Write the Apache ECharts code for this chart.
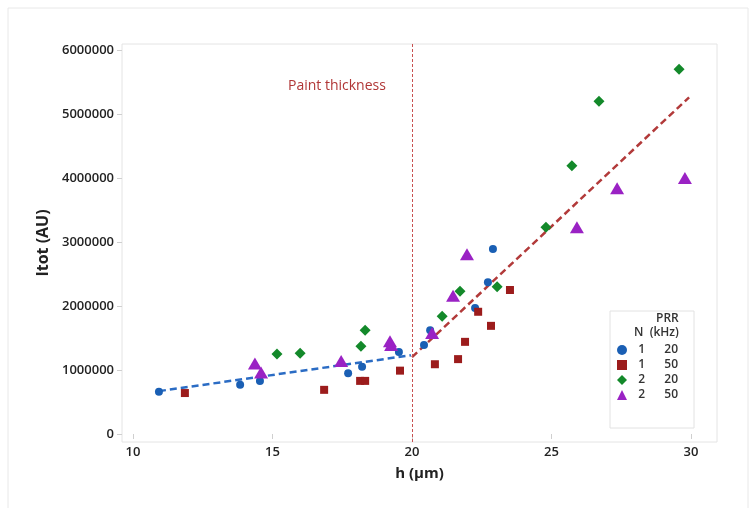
<!DOCTYPE html>
<html>
<head>
<meta charset="utf-8">
<script src="https://cdn.jsdelivr.net/npm/echarts@6/dist/echarts.min.js"></script>
<style>
  html, body { margin: 0; padding: 0; background: #fff; }
  #chart { width: 756px; height: 508px; }
</style>
</head>
<body>
<div id="chart"></div>
<script>
// data: [h (µm), Itot (AU)]
var n1_20 = [[10.93, 660000], [13.84, 770000], [14.55, 830000], [17.71, 950000], [18.21, 1050000],
  [19.53, 1280000], [20.43, 1390000], [20.65, 1620000], [22.26, 1970000], [22.72, 2370000], [22.9, 2890000]];
var n1_50 = [[11.86, 640000], [16.85, 690000], [18.14, 830000], [18.32, 830000], [19.57, 990000],
  [20.82, 1090000], [21.65, 1170000], [21.9, 1440000], [22.37, 1910000], [22.83, 1690000], [23.51, 2250000]];
var n2_20 = [[15.16, 1250000], [15.99, 1260000], [18.17, 1370000], [18.32, 1620000], [21.08, 1840000],
  [21.72, 2230000], [23.05, 2300000], [24.8, 3230000], [25.73, 4190000], [26.7, 5200000], [29.57, 5700000]];
var n2_50 = [[14.37, 1100000], [14.59, 960000], [17.46, 1140000], [19.21, 1450000], [19.25, 1390000],
  [20.72, 1580000], [21.47, 2160000], [21.97, 2810000], [25.91, 3230000], [27.35, 3840000], [29.78, 4000000]];

// dashed fit lines, below and above 20 µm
var fitLow = [[10.93, 670000], [19.96, 1230000]];
var fitHigh = [[20.0, 1200000], [29.93, 5260000]];

var paintThickness = 20;

var xTicks = [10, 15, 20, 25, 30];
var yTicks = [0, 1000000, 2000000, 3000000, 4000000, 5000000, 6000000];

var legendN = ['1', '1', '2', '2'];
var legendPRR = ['20', '50', '20', '50'];
var seriesNames = ['1 20', '1 50', '2 20', '2 50'];

var font = '"Open Sans", "Noto Sans", sans-serif';

var myChart = echarts.init(document.getElementById('chart'));

var option = {
  backgroundColor: '#fff',
  animation: false,
  textStyle: { fontFamily: font },
  grid: {
    left: 122, right: 39, top: 44, bottom: 66,
    show: true, borderColor: '#e4e4e4', borderWidth: 1, backgroundColor: '#fff'
  },
  xAxis: {
    type: 'value',
    min: 9.606, max: 30.93,
    name: 'h (µm)',
    nameLocation: 'middle',
    nameGap: 24,
    nameTextStyle: { fontSize: 15, fontWeight: 'bold', color: '#222', fontFamily: font },
    axisLine: { show: false },
    splitLine: { show: false },
    axisTick: { show: true, length: 5, customValues: xTicks, lineStyle: { color: '#cfcfcf' } },
    axisLabel: { customValues: xTicks, margin: 4, fontSize: 13, fontWeight: 600, color: '#222', fontFamily: font }
  },
  yAxis: {
    type: 'value',
    min: -125000, max: 6094000,
    name: 'Itot (AU)',
    nameLocation: 'middle',
    nameGap: 63,
    nameRotate: 90,
    nameTextStyle: { fontSize: 16, fontWeight: 'bold', color: '#222', fontFamily: font },
    axisLine: { show: false },
    splitLine: { show: false },
    axisTick: { show: true, length: 5, customValues: yTicks, lineStyle: { color: '#cfcfcf' } },
    axisLabel: {
      customValues: yTicks, margin: 8, fontSize: 13, fontWeight: 600, color: '#222', fontFamily: font,
      formatter: function (v) { return String(v); }
    }
  },
  legend: {
    orient: 'vertical',
    left: 610, top: 311,
    data: [
      { name: seriesNames[0], icon: 'circle' },
      { name: seriesNames[1], icon: 'rect' },
      { name: seriesNames[2], icon: 'diamond' },
      { name: seriesNames[3], icon: 'triangle' }
    ],
    itemWidth: 10, itemHeight: 10, itemGap: 3,
    padding: [33, 16, 27, 7],
    borderColor: '#e2e2e2', borderWidth: 1,
    selectedMode: false,
    formatter: function (name) {
      var i = seriesNames.indexOf(name);
      return '{n|' + legendN[i] + '}{p|' + legendPRR[i] + '}';
    },
    textStyle: {
      fontFamily: font, fontSize: 12, fontWeight: 600, color: '#333',
      rich: {
        n: { width: 13, align: 'right', fontSize: 12, fontWeight: 600, color: '#333', fontFamily: font },
        p: { width: 33, align: 'right', fontSize: 12, fontWeight: 600, color: '#333', fontFamily: font }
      }
    }
  },
  graphic: [
    { type: 'rect', silent: true, z: -10, shape: { x: 8, y: 8, width: 740, height: 530 },
      style: { fill: 'none', stroke: '#e8e8e8', lineWidth: 1 } },
    { type: 'text', left: 656, top: 313,
      style: { text: 'PRR', font: '600 12px ' + font, fill: '#333' } },
    { type: 'text', left: 634, top: 327,
      style: { text: 'N  (kHz)', font: '600 12px ' + font, fill: '#333' } },
    { type: 'text', left: 288, top: 79,
      style: { text: 'Paint thickness', font: '14px ' + font, fill: '#b03636' } }
  ],
  series: [
    {
      name: seriesNames[0], type: 'scatter', data: n1_20,
      symbol: 'circle', symbolSize: 8,
      itemStyle: { color: '#1a5fb4', opacity: 1 },
      markLine: {
        silent: true, symbol: 'none',
        label: { show: false },
        lineStyle: { color: '#c85050', width: 1, type: [3, 2] },
        data: [{ xAxis: paintThickness }]
      }
    },
    {
      name: seriesNames[1], type: 'scatter', data: n1_50,
      symbol: 'rect', symbolSize: 8,
      itemStyle: { color: '#9c1c1c', opacity: 1 }
    },
    {
      name: seriesNames[2], type: 'scatter', data: n2_20,
      symbol: 'diamond', symbolSize: 11,
      itemStyle: { color: '#13892a', opacity: 1 }
    },
    {
      name: seriesNames[3], type: 'scatter', data: n2_50,
      symbol: 'triangle', symbolSize: [14, 12],
      itemStyle: { color: '#9a22c4', opacity: 1 }
    },
    {
      name: 'fitLow', type: 'line', data: fitLow,
      symbol: 'none', z: 1,
      lineStyle: { color: '#2b6cc4', width: 2.5, type: [7, 4] }
    },
    {
      name: 'fitHigh', type: 'line', data: fitHigh,
      symbol: 'none', z: 1,
      lineStyle: { color: '#b23a3a', width: 2.5, type: [7, 4] }
    }
  ]
};

myChart.setOption(option);
</script>
</body>
</html>
